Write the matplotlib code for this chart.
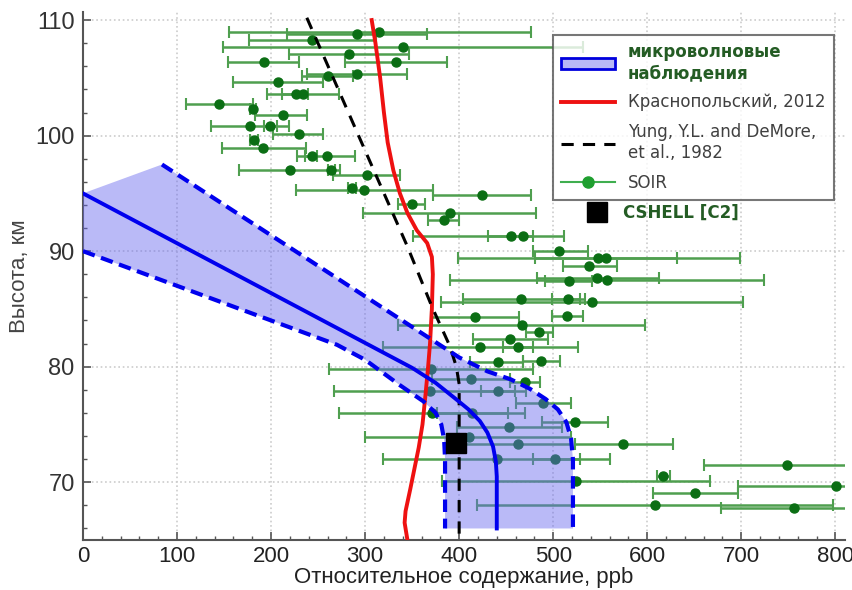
import numpy as np
import matplotlib.pyplot as plt
from matplotlib.patches import Patch
from matplotlib.lines import Line2D

# SOIR profiles: value, altitude and the ends of each error bar (ppb, km)
soir_y = [109.0, 108.8, 108.3, 107.7, 107.1, 106.4, 106.4, 105.3, 105.2, 104.6,
          103.6, 103.6, 102.7, 102.3, 101.8, 100.8, 100.8, 100.1, 99.6, 98.9,
          98.2, 98.2, 97.0, 97.0, 96.6, 95.5, 95.3, 94.9, 94.1, 93.3,
          92.7, 91.3, 91.3, 90.0, 89.4, 89.4, 88.7, 87.7, 87.5, 87.4,
          85.9, 85.9, 85.6, 84.4, 84.3, 83.6, 83.0, 82.4, 81.7, 81.7,
          80.5, 80.4, 79.8, 78.9, 78.7, 77.9, 77.9, 76.9, 76.0, 76.0,
          75.2, 74.8, 73.9, 73.3, 73.3, 72.0, 72.0, 71.5, 70.5, 70.1,
          69.7, 69.1, 68.0, 67.8]
soir_x = [315, 291, 244, 340, 283, 193, 333, 291, 261, 207,
          226, 234, 145, 181, 213, 178, 199, 230, 182, 191,
          243, 259, 220, 264, 302, 286, 299, 424, 350, 390,
          384, 455, 468, 506, 548, 556, 538, 547, 557, 517,
          466, 516, 541, 515, 417, 467, 485, 454, 422, 463,
          487, 441, 370, 413, 470, 369, 441, 489, 371, 414,
          523, 453, 410, 463, 574, 440, 502, 749, 617, 524,
          801, 651, 608, 756]
soir_lo = [155, 217, 176, 149, 219, 154, 279, 238, 233, 159,
           212, 196, 109, 178, 183, 136, 193, 202, 178, 148,
           236, 228, 166, 260, 266, 282, 227, 372, 335, 298,
           367, 431, 351, 478, 399, 481, 510, 483, 390, 491,
           404, 499, 381, 499, 370, 335, 471, 415, 319, 447,
           468, 412, 262, 371, 454, 267, 423, 460, 272, 376,
           488, 398, 300, 406, 523, 319, 478, 660, 610, 382,
           696, 606, 419, 678]
soir_hi = [476, 366, 312, 532, 347, 230, 387, 345, 287, 255,
           239, 272, 181, 184, 238, 219, 206, 255, 186, 237,
           249, 289, 273, 268, 337, 290, 372, 476, 364, 482,
           400, 479, 511, 537, 699, 632, 568, 612, 724, 541,
           528, 534, 702, 532, 464, 598, 500, 495, 526, 479,
           507, 468, 479, 454, 486, 471, 459, 519, 470, 452,
           558, 509, 519, 519, 627, 560, 529, 838, 624, 667,
           906, 696, 798, 835]

# Krasnopolsky 2012 model
kras_x = [307, 311, 316, 320, 324, 330, 337, 345, 355, 366, 371, 372,
          371, 369, 367, 364, 361, 357, 352, 348, 343, 342, 345]
kras_y = [110, 108, 105, 102, 99.4, 97, 95, 93.3, 91.8, 90.7, 89.5, 88,
          85, 82, 80, 77.4, 75, 73, 71, 69.4, 67.5, 66.5, 65]

# Yung & DeMore 1982 model
yung_x = [238, 293, 345, 371, 390, 397, 400, 400]
yung_y = [110.2, 100, 90.4, 85.2, 81.8, 80.0, 78.5, 65]

# microwave observations: mean and bounds
mw_x = [0, 350, 375, 395, 410, 422, 430, 436, 439, 440, 440]
mw_y = [95, 79.9, 78.6, 77.3, 76.3, 75.3, 74.3, 73.1, 71.8, 70.5, 66]
mw_up_x = [84, 400, 430, 455, 475, 492, 505, 514, 519, 521, 521]
mw_up_y = [97.5, 80.8, 79.6, 78.9, 78.1, 77.2, 76.3, 75.2, 73.8, 72, 66]
mw_lo_x = [0, 230, 270, 300, 337, 362, 375, 381, 384, 385, 385]
mw_lo_y = [90, 83.1, 81.9, 80.6, 78.4, 77.0, 76.0, 75.0, 73.7, 72, 66]

# CSHELL [C2]
cshell_x = [397]
cshell_y = [73.4]

fig = plt.figure(figsize=(8.53, 5.9), dpi=100)
ax = fig.add_axes([0.0973, 0.0847, 0.893, 0.895])

sx = np.array(soir_x)
xerr = [sx - np.array(soir_lo), np.array(soir_hi) - sx]
ax.errorbar(sx, soir_y, xerr=xerr, fmt='o', color='#0b6e14', ms=6.5,
            ecolor='#4f9f4f', elinewidth=1.8, capsize=4, capthick=1.5, zorder=2)

poly_x = [0] + mw_up_x + mw_lo_x[::-1]
poly_y = [95] + mw_up_y + mw_lo_y[::-1]
ax.fill(poly_x, poly_y, color='#6666ee', alpha=0.45, lw=0, zorder=3)

ax.plot(kras_x, kras_y, color='#ee1111', lw=2.8, zorder=4)
ax.plot(yung_x, yung_y, color='black', lw=2.2, ls=(0, (4, 3)), zorder=4)
ax.plot(mw_x, mw_y, color='#0000ee', lw=2.8, zorder=5)
ax.plot(mw_up_x, mw_up_y, color='#0000ee', lw=3, ls=(0, (3, 1.6)), zorder=5)
ax.plot(mw_lo_x, mw_lo_y, color='#0000ee', lw=3, ls=(0, (3, 1.6)), zorder=5)
ax.plot(cshell_x, cshell_y, 's', color='black', ms=15, zorder=6)

ax.set_xlim(0, 810)
ax.set_ylim(65, 110.7)
ax.set_xticks(np.arange(0, 801, 100))
ax.set_xticks(np.arange(0, 811, 20), minor=True)
ax.set_yticks(np.arange(70, 111, 10))
ax.set_yticks(np.arange(66, 111, 2), minor=True)
ax.grid(True, which='major', color='#cccccc', ls=':', lw=1.2)
ax.tick_params(which='both', direction='in', color='#555555')
ax.tick_params(which='major', length=6, width=1.2)
ax.tick_params(which='minor', length=3, width=1)
ax.tick_params(axis='y', pad=6)
ax.tick_params(axis='x', pad=4)
for lab in ax.get_yticklabels():
    lab.set_family(['Liberation Sans', 'DejaVu Sans'])
    lab.set_fontsize(17)
    lab.set_color('#333333')
for lab in ax.get_xticklabels():
    lab.set_family(['Liberation Sans Narrow', 'Liberation Sans'])
    lab.set_fontsize(16)
    lab.set_color('#222222')
for side in ['top', 'right']:
    ax.spines[side].set_visible(False)
for side in ['left', 'bottom']:
    ax.spines[side].set_color('#555555')
    ax.spines[side].set_linewidth(1.5)

ax.set_xlabel('Относительное содержание, ppb', fontsize=16, color='#222222',
              family=['Liberation Sans Narrow', 'Liberation Sans'], labelpad=0)
ax.set_ylabel('Высота, км', fontsize=16, color='#444444',
              family=['Liberation Sans', 'DejaVu Sans'], labelpad=4)

handles = [
    Patch(facecolor='#b8b8f6', edgecolor='#0000dd', lw=2),
    Line2D([], [], color='#ee1111', lw=2.8),
    Line2D([], [], color='black', lw=2.2, ls=(0, (4, 3))),
    Line2D([], [], color='#3fae4f', lw=1.5, marker='o', ms=8, mfc='#1f9f2f', mec='#1f9f2f'),
]
labels = ['микроволновые\nнаблюдения', 'Краснопольский, 2012',
          'Yung, Y.L. and DeMore,\net al., 1982', 'SOIR']
leg = ax.legend(handles, labels, loc='upper left', bbox_to_anchor=(0.617, 0.957),
                fontsize=12, frameon=True, fancybox=False, handlelength=3.2,
                labelspacing=0.7, borderpad=0.5, borderaxespad=0)
leg.get_frame().set_edgecolor('#555555')
leg.get_frame().set_linewidth(1.5)
leg.set_zorder(7)
for i, t in enumerate(leg.get_texts()):
    if i == 0:
        t.set_color('#245c24')
        t.set_fontweight('bold')
    else:
        t.set_color('#404040')

leg2 = ax.legend([Line2D([], [], ls='', marker='s', color='black', ms=14)],
                 ['CSHELL [C2]'], loc='upper left', bbox_to_anchor=(0.65, 0.65),
                 frameon=False, fontsize=12, handlelength=1.5, borderaxespad=0)
leg2.get_texts()[0].set_color('#245c24')
leg2.get_texts()[0].set_fontweight('bold')
ax.add_artist(leg)

fig.savefig('out.png', dpi=100)
